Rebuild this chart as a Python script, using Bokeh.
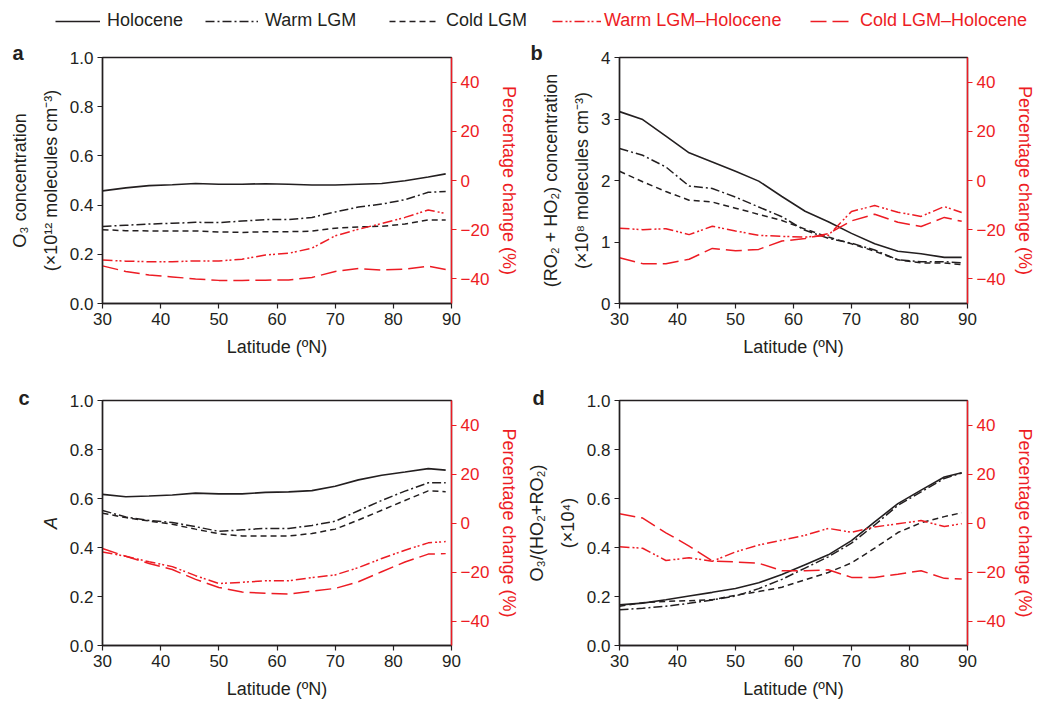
from bokeh.plotting import figure
from bokeh.models import (Range1d, LinearAxis, FixedTicker, Legend, LegendItem,
                          PrintfTickFormatter, CustomJSTickFormatter)
from bokeh.layouts import column, row
from bokeh.embed import file_html
from bokeh.resources import INLINE

# ---------------- data ----------------
lat = [30, 34, 38, 42, 46, 50, 54, 58, 62, 66, 70, 74, 78, 82, 86, 89]

# panel a: O3 concentration (x10^12 molecules cm^-3)
a_holocene = [0.458, 0.470, 0.479, 0.483, 0.488, 0.485, 0.485, 0.487, 0.485, 0.482, 0.482, 0.485, 0.488, 0.499, 0.514, 0.527]
a_warm = [0.313, 0.318, 0.323, 0.326, 0.330, 0.329, 0.335, 0.341, 0.341, 0.350, 0.372, 0.392, 0.404, 0.422, 0.452, 0.455]
a_cold = [0.300, 0.296, 0.295, 0.295, 0.295, 0.291, 0.289, 0.292, 0.292, 0.294, 0.306, 0.311, 0.314, 0.323, 0.340, 0.339]
a_warm_diff = [-32.3, -32.8, -33.0, -33.0, -32.7, -32.7, -32.0, -30.3, -29.6, -27.5, -22.5, -19.8, -17.5, -15.0, -12.0, -13.4]
a_cold_diff = [-34.7, -37.0, -38.4, -39.2, -40.0, -40.6, -40.6, -40.5, -40.4, -39.4, -37.0, -35.8, -36.4, -36.0, -34.8, -36.2]

# panel b: (RO2 + HO2) concentration (x10^8 molecules cm^-3)
b_holocene = [3.12, 2.99, 2.72, 2.45, 2.30, 2.15, 1.99, 1.74, 1.50, 1.33, 1.14, 0.97, 0.85, 0.81, 0.75, 0.75]
b_warm = [2.52, 2.41, 2.22, 1.91, 1.87, 1.73, 1.57, 1.41, 1.19, 1.06, 0.98, 0.87, 0.71, 0.68, 0.68, 0.66]
b_cold = [2.15, 1.98, 1.82, 1.68, 1.65, 1.55, 1.45, 1.35, 1.21, 1.08, 0.97, 0.85, 0.71, 0.66, 0.66, 0.63]
b_warm_diff = [-19.4, -20.0, -19.6, -22.0, -18.6, -20.5, -22.3, -22.7, -23.0, -22.3, -12.6, -10.2, -12.9, -14.6, -10.6, -13.0]
b_cold_diff = [-31.4, -33.8, -33.8, -32.0, -27.6, -28.6, -28.0, -24.6, -23.6, -21.6, -16.4, -13.7, -17.0, -18.7, -15.0, -16.6]

# panel c: A
c_holocene = [0.617, 0.607, 0.610, 0.614, 0.622, 0.619, 0.619, 0.625, 0.627, 0.632, 0.650, 0.676, 0.695, 0.708, 0.722, 0.716]
c_warm = [0.551, 0.525, 0.510, 0.502, 0.485, 0.466, 0.472, 0.478, 0.478, 0.490, 0.507, 0.550, 0.592, 0.630, 0.664, 0.664]
c_cold = [0.540, 0.522, 0.508, 0.495, 0.475, 0.456, 0.447, 0.447, 0.447, 0.457, 0.475, 0.512, 0.552, 0.592, 0.631, 0.628]
c_warm_diff = [-11.8, -13.6, -15.8, -17.8, -21.5, -24.7, -24.2, -23.6, -23.6, -22.3, -21.2, -18.2, -14.5, -11.1, -8.1, -7.6]
c_cold_diff = [-10.4, -13.6, -16.5, -19.0, -23.0, -26.3, -28.2, -28.7, -29.0, -27.8, -26.7, -24.0, -19.9, -15.9, -12.7, -12.5]

# panel d: O3/(HO2+RO2) (x10^4)
d_holocene = [0.166, 0.173, 0.187, 0.202, 0.217, 0.233, 0.256, 0.290, 0.330, 0.370, 0.428, 0.505, 0.579, 0.634, 0.688, 0.705]
d_warm = [0.146, 0.152, 0.160, 0.172, 0.186, 0.202, 0.232, 0.270, 0.316, 0.362, 0.418, 0.492, 0.572, 0.627, 0.682, 0.704]
d_cold = [0.160, 0.175, 0.180, 0.183, 0.187, 0.205, 0.220, 0.238, 0.268, 0.298, 0.337, 0.397, 0.461, 0.501, 0.526, 0.542]
d_warm_diff = [-9.7, -10.3, -15.3, -14.2, -15.6, -11.8, -9.0, -7.0, -5.0, -2.2, -3.8, -1.6, -0.3, 1.0, -1.4, -0.3]
d_cold_diff = [3.8, 2.0, -4.0, -9.4, -15.5, -15.9, -16.4, -19.5, -19.5, -19.1, -22.2, -22.2, -20.9, -19.5, -22.6, -22.9]

series_names = ["Holocene", "Warm LGM", "Cold LGM", "Warm LGM\u2013Holocene", "Cold LGM\u2013Holocene"]
x_ticks = [30, 40, 50, 60, 70, 80, 90]
pct_ticks = [-40, -20, 0, 20, 40]

# ---------------- style ----------------
FONT = "Liberation Sans"
BLACK = "#231f20"
RED = "#ed1c24"
STY = {
    "Holocene": dict(color=BLACK, dash="solid", width=1.6),
    "Warm LGM": dict(color=BLACK, dash="9 3 2 3", width=1.5),
    "Cold LGM": dict(color=BLACK, dash="6 4", width=1.5),
    "Warm LGM\u2013Holocene": dict(color=RED, dash="10 3 2 2 2 3", width=1.5),
    "Cold LGM\u2013Holocene": dict(color=RED, dash="16 6", width=1.5),
}

pct_fmt = CustomJSTickFormatter(code="return tick < 0 ? '\u2212' + Math.abs(tick) : String(tick);")


def style_axis(ax, color, label_standoff, line_height=1.2):
    ax.axis_line_color = color
    ax.axis_line_width = 1.4
    ax.major_tick_line_color = color
    ax.major_tick_line_width = 1.2
    ax.major_tick_in = 0
    ax.major_tick_out = 5
    ax.minor_tick_line_color = None
    ax.major_label_text_font = FONT
    ax.major_label_text_font_size = "17px"
    ax.major_label_text_color = color
    ax.major_label_standoff = 4
    ax.axis_label_text_font = FONT
    ax.axis_label_text_font_size = "18px"
    ax.axis_label_text_font_style = "normal"
    ax.axis_label_text_color = color
    ax.axis_label_standoff = label_standoff
    ax.axis_label_text_line_height = line_height


def make_panel(letter, letter_off, letter_standoff, ylabel, yrange, yticks, yfmt, data,
               width, height, bl, br, bt, bb, italic=False):
    p = figure(width=width, height=height, x_range=Range1d(30, 90), y_range=Range1d(*yrange),
               output_backend="svg", toolbar_location=None,
               min_border_left=bl, min_border_right=br, min_border_top=bt, min_border_bottom=bb)
    p.extra_y_ranges = {"pct": Range1d(-50, 50)}
    p.grid.visible = False
    p.outline_line_color = BLACK
    p.outline_line_width = 1.4
    p.background_fill_color = "white"
    p.border_fill_color = "white"

    p.title.text = letter
    p.title.align = "left"
    p.title.offset = letter_off
    p.title.standoff = letter_standoff
    p.title.vertical_align = "bottom"
    p.title.text_font = FONT
    p.title.text_font_size = "20px"
    p.title.text_font_style = "bold"
    p.title.text_color = BLACK

    p.xaxis.ticker = FixedTicker(ticks=x_ticks)
    p.xaxis.axis_label = "Latitude (\u00baN)"
    p.yaxis.ticker = FixedTicker(ticks=yticks)
    p.yaxis.formatter = PrintfTickFormatter(format=yfmt)
    p.yaxis.axis_label = ylabel
    style_axis(p.xaxis[0], BLACK, 9)
    style_axis(p.yaxis[0], BLACK, 6, 1.55)
    if italic:
        p.yaxis.axis_label_text_font_style = "italic"

    rax = LinearAxis(y_range_name="pct", ticker=FixedTicker(ticks=pct_ticks), formatter=pct_fmt,
                     axis_label="Percentage change (%)")
    style_axis(rax, RED, 7)
    p.add_layout(rax, "right")

    for name, vals in zip(series_names, data):
        s = STY[name]
        kw = dict(y_range_name="pct") if s["color"] == RED else {}
        p.line(lat, vals, line_color=s["color"], line_width=s["width"], line_dash=s["dash"], **kw)
    return p


pa = make_panel("a", -90, -12, "O\u2083 concentration\n(\u00d710\u00b9\u00b2 molecules cm\u207b\u00b3)", (0, 1),
                [0, 0.2, 0.4, 0.6, 0.8, 1.0], "%.1f",
                [a_holocene, a_warm, a_cold, a_warm_diff, a_cold_diff],
                522, 332, 102, 70, 21, 65)
pb = make_panel("b", -89, -12, "(RO\u2082 + HO\u2082) concentration\n(\u00d710\u2078 molecules cm\u207b\u00b3)", (0, 4),
                [0, 1, 2, 3, 4], "%d",
                [b_holocene, b_warm, b_cold, b_warm_diff, b_cold_diff],
                516, 332, 97, 69, 21, 65)
pc = make_panel("c", -84, -16, "A", (0, 1), [0, 0.2, 0.4, 0.6, 0.8, 1.0], "%.1f",
                [c_holocene, c_warm, c_cold, c_warm_diff, c_cold_diff],
                522, 333, 102, 70, 32, 55, italic=True)
pd = make_panel("d", -87, -16, "O\u2083/(HO\u2082+RO\u2082)\n(\u00d710\u2074)", (0, 1), [0, 0.2, 0.4, 0.6, 0.8, 1.0], "%.1f",
                [d_holocene, d_warm, d_cold, d_warm_diff, d_cold_diff],
                516, 333, 97, 69, 32, 55)

# ---------------- legend strip ----------------
lg = figure(width=1038, height=36, x_range=Range1d(0, 1), y_range=Range1d(0, 1),
            output_backend="svg", toolbar_location=None, min_border=0)
lg.axis.visible = False
lg.grid.visible = False
lg.outline_line_color = None
legend_x = [55, 205, 389, 552, 810]
legend_glyph_w = [45, 53, 48, 49, 44]
legend_standoff = [7, 7, 9, 3, 6]
for name, lx, gw, so in zip(series_names, legend_x, legend_glyph_w, legend_standoff):
    s = STY[name]
    # proxy renderer placed outside the visible range: only its legend glyph is seen
    r = lg.line([5, 6], [5, 6], line_color=s["color"], line_width=s["width"], line_dash=s["dash"])
    leg = Legend(items=[LegendItem(label=name, renderers=[r])], location=(lx, 5),
                 orientation="horizontal", glyph_width=gw, glyph_height=20, label_standoff=so,
                 border_line_color=None, background_fill_alpha=0, padding=0, margin=0,
                 label_text_font=FONT, label_text_font_size="18px", label_text_color=s["color"])
    lg.add_layout(leg)

layout = column(lg, row(pa, pb), row(pc, pd))
open("out.html", "w").write(file_html(layout, INLINE))
